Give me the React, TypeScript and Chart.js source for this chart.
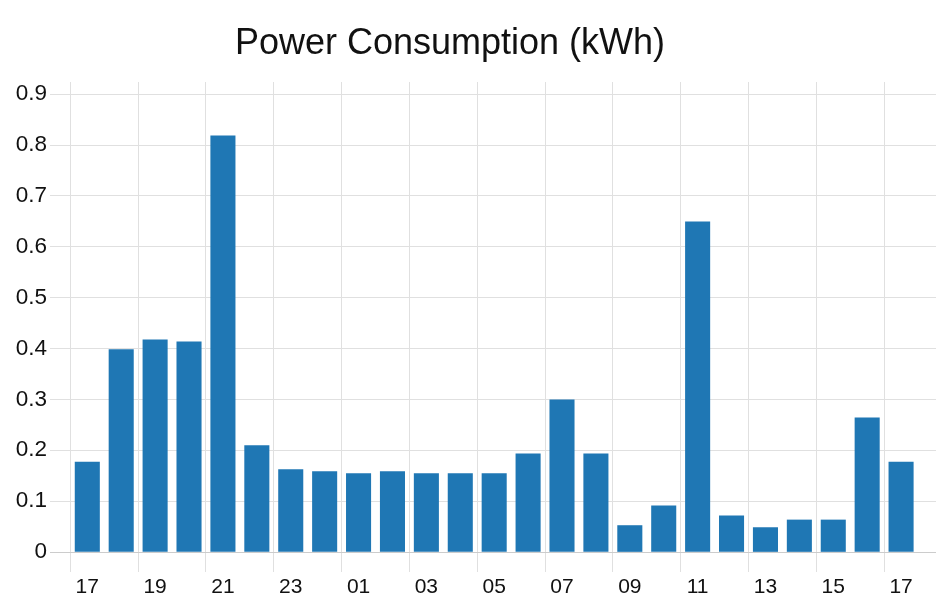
import React, { useEffect, useRef } from 'react';
import { Chart, registerables } from 'chart.js';

Chart.register(...registerables);

const hours: string[] = ['17', '18', '19', '20', '21', '22', '23', '00', '01', '02', '03', '04', '05', '06', '07', '08', '09', '10', '11', '12', '13', '14', '15', '16', '17'];
const consumption: number[] = [0.177, 0.398, 0.417, 0.413, 0.818, 0.209, 0.162, 0.158, 0.154, 0.158, 0.154, 0.154, 0.154, 0.193, 0.299, 0.193, 0.052, 0.091, 0.649, 0.071, 0.048, 0.063, 0.063, 0.264, 0.177];
const yTicks: number[] = [0, 0.1, 0.2, 0.3, 0.4, 0.5, 0.6, 0.7, 0.8, 0.9];
const yTickLabels: string[] = ['0', '0.1', '0.2', '0.3', '0.4', '0.5', '0.6', '0.7', '0.8', '0.9'];
const labelEvery = 2;
const titleText = 'Power Consumption (kWh)';

const FONT = "'Liberation Sans', Arial, Helvetica, sans-serif";

export default function App() {
  const canvasRef = useRef<HTMLCanvasElement | null>(null);

  useEffect(() => {
    if (!canvasRef.current) return;
    const xTickValues: number[] = [];
    hours.forEach((_, i) => {
      if (i % labelEvery === 0) {
        xTickValues.push(i - 0.5);
        xTickValues.push(i);
      }
    });

    const chart = new Chart(canvasRef.current, {
      type: 'bar',
      data: {
        datasets: [
          {
            label: titleText,
            data: consumption.map((v, i) => ({ x: i, y: v })),
            backgroundColor: '#1f77b4',
            borderWidth: 0,
            barThickness: 24.4,
          },
        ],
      },
      options: {
        animation: false,
        responsive: true,
        maintainAspectRatio: false,
        layout: { padding: { left: 0, right: 3, top: 0, bottom: 0 } },
        plugins: {
          legend: { display: false },
          tooltip: { enabled: false },
          title: {
            display: true,
            text: titleText,
            color: '#111111',
            font: { family: FONT, size: 36, weight: 'normal' },
            padding: { top: 22.5, bottom: 16.3 },
          },
        },
        scales: {
          x: {
            type: 'linear',
            min: -1.1,
            max: 25.03,
            offset: false,
            border: { display: false },
            grid: {
              offset: false,
              drawTicks: true,
              tickLength: 20,
              lineWidth: 1,
              color: (ctx: any) =>
                ctx.tick && Number.isInteger(ctx.tick.value) ? 'rgba(0,0,0,0)' : '#e0e0e0',
            },
            afterBuildTicks: (scale: any) => {
              scale.ticks = xTickValues.map((v) => ({ value: v }));
            },
            afterFit: (scale: any) => {
              scale.height = 60;
            },
            ticks: {
              autoSkip: false,
              maxRotation: 0,
              padding: 3,
              color: '#111111',
              font: { family: FONT, size: 21 },
              callback: (value: any) =>
                Number.isInteger(value) && hours[value] !== undefined ? hours[value] : '',
            },
          },
          y: {
            type: 'linear',
            min: 0,
            max: 0.924,
            border: { display: false },
            grid: {
              drawTicks: false,
              lineWidth: 1,
              color: (ctx: any) => (ctx.tick && ctx.tick.value === 0 ? '#cccccc' : '#e0e0e0'),
            },
            afterBuildTicks: (scale: any) => {
              scale.ticks = yTicks.map((v) => ({ value: v }));
            },
            afterFit: (scale: any) => {
              scale.width = 86;
            },
            ticks: {
              padding: 3,
              color: '#111111',
              font: { family: FONT, size: 22.5 },
              callback: (value: any) => {
                const idx = yTicks.findIndex((t) => Math.abs(t - value) < 1e-9);
                return idx >= 0 ? yTickLabels[idx] : '';
              },
            },
          },
        },
      },
    });

    return () => chart.destroy();
  }, []);

  return (
    <div style={{ position: 'absolute', left: -36, top: 0, width: 975, height: 612 }}>
      <canvas ref={canvasRef} />
    </div>
  );
}
